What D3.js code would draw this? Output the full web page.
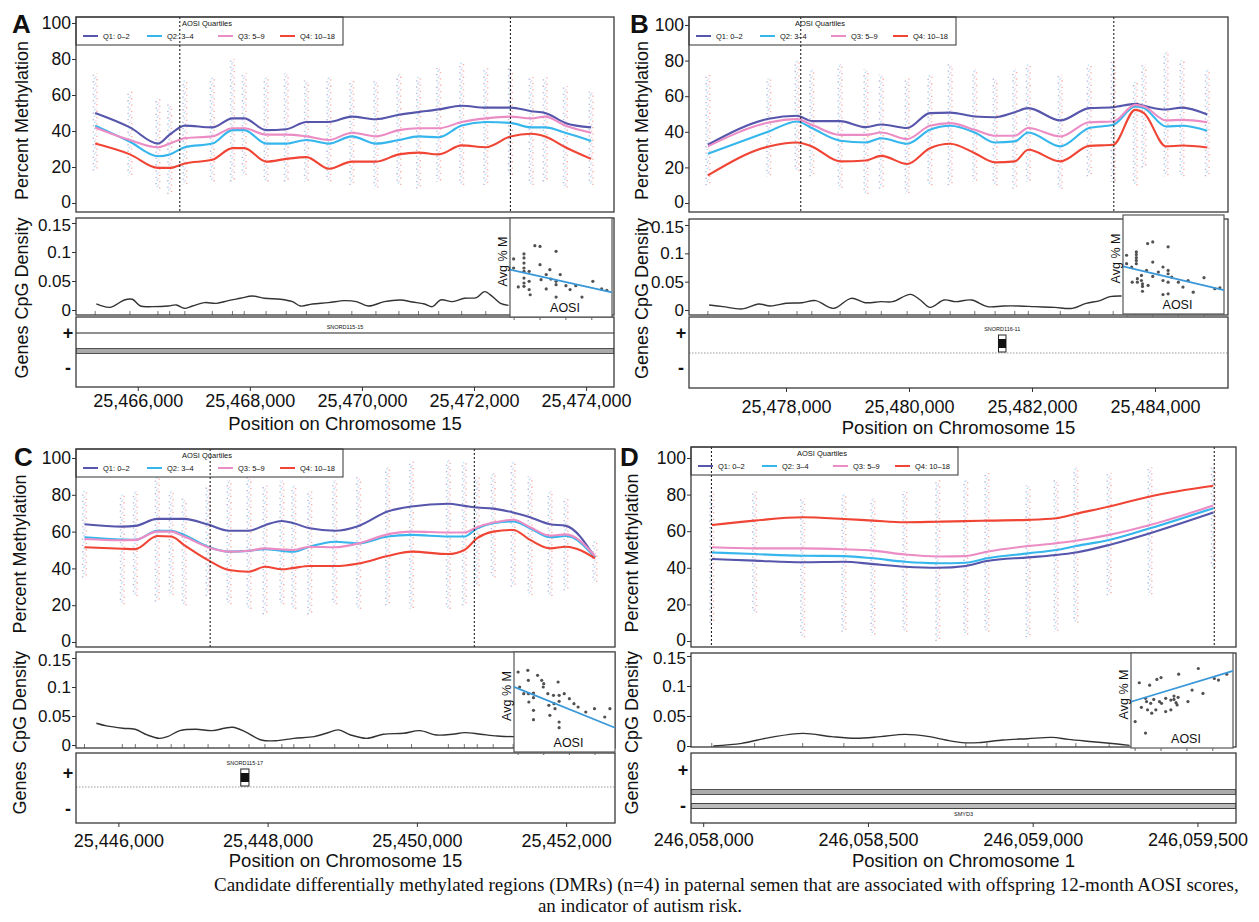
<!DOCTYPE html>
<html>
<head>
<meta charset="utf-8">
<script src="https://cdn.jsdelivr.net/npm/d3@7"></script>
<style>
body { margin: 0; background: #fff; }
text { font-family: "Liberation Sans", Arial, Helvetica, sans-serif; fill: #111; }
</style>
</head>
<body>
<svg id="fig" width="1259" height="922"></svg>
<script>
// ---- shared ----
var quartiles = ["Q1: 0\u20132", "Q2: 3\u20134", "Q3: 5\u20139", "Q4: 10\u201318"];
var qColors = ["#5656ac", "#35b6ec", "#ec8cc4", "#f04434"];

var geneNames = ["SNORD115-15", "SNORD116-11", "SNORD115-17", "SMYD3"];
var geneStart = [25464500, 25481455, 25447640, 246057500];
var geneEnd = [25475000, 25481577, 25447750, 246060000];
var geneStrand = ["+", "+", "+", "-"];
var geneKind = ["line", "box", "box", "line"];

// ---- panel A ----
var xDomA = [25464898, 25474498];
var ticksA = [25466000, 25468000, 25470000, 25472000, 25474000];
var sitesA = [25465240, 25465860, 25466360, 25466570, 25466840, 25467330, 25467690, 25467900, 25468290, 25468650, 25469010, 25469410,
  25469820, 25470250, 25470660, 25471010, 25471370, 25471780, 25472210, 25472650, 25473020, 25473270, 25473630, 25474090];
var q1A = [50, 42, 33, 38, 43, 42, 47, 47, 40.5, 41, 45, 45, 48, 46.5, 49, 50.5, 52, 54, 53, 53, 51, 50, 44.5, 42];
var q2A = [43, 34, 26, 27, 31, 33, 40.5, 40.5, 33, 33, 35, 33, 37, 33, 35, 37, 36.5, 43, 45, 44.5, 42, 42, 39, 34.5];
var q3A = [42, 35, 31, 33, 36, 37, 41.5, 41.5, 38, 38, 37, 35, 39, 37, 40.5, 41.5, 41.5, 45, 47, 48, 47, 48, 43, 39];
var q4A = [33, 27, 19.5, 19.5, 22, 24, 30.5, 30.5, 23, 24.5, 25.5, 19, 23, 23, 27, 28, 27, 32, 31, 37, 38.5, 37, 31, 24.5];
var loA = [18, 15, 8, 5, 10, 12, 12, 15, 12, 12, 12, 12, 10, 8, 10, 8, 12, 10, 10, 15, 10, 12, 8, 10];
var hiA = [72, 62, 58, 55, 68, 70, 80, 72, 70, 72, 68, 70, 68, 68, 72, 70, 75, 78, 75, 75, 70, 70, 65, 62];
var dmrA = [25466750, 25472650];
var cpgPosA = [25465261, 25465510, 25465760, 25465903, 25466047, 25466260, 25466546, 25466688, 25466831, 25466975, 25467188, 25467403,
  25467617, 25467832, 25468045, 25468260, 25468545, 25468760, 25468902, 25469117, 25469402, 25469688, 25469901, 25470116,
  25470401, 25470687, 25470902, 25471116, 25471258, 25471402, 25471615, 25471830, 25472044, 25472188, 25472330, 25472472, 25472615];
var cpgA = [0.0104, 0.0046, 0.0173, 0.0185, 0.0069, 0.0058, 0.0069, 0.0087, 0.0029, 0.0069, 0.0127, 0.0115,
  0.0162, 0.0202, 0.0242, 0.0202, 0.0185, 0.0144, 0.0069, 0.0104, 0.0127, 0.0162, 0.0144, 0.0069,
  0.0144, 0.0173, 0.0138, 0.0104, 0.0058, 0.0173, 0.0144, 0.0202, 0.0214, 0.0317, 0.0231, 0.0115, 0.008];
var aosiA = [0, 0, 0.9, 2, 2, 2, 2, 2, 2, 2, 2, 3, 3, 3, 3.2, 4.1, 5.1, 5.1, 5.3, 6.3, 6.3, 7, 7.2, 8.2, 8.2, 8.2, 8.2, 9, 10.1, 10.9, 12, 13.2, 15.3, 17, 18];
var avgA = [55.2, 49.7, 38.2, 58.2, 55.8, 52.7, 49.7, 47.7, 43.6, 40.6, 38.6, 47.7, 41.6, 36.6, 33.5, 63.2, 62.8, 51.7, 42.6, 45.7, 37, 48.7, 43, 59.8, 41.6, 39.6, 32.1, 45.7, 39, 36.6, 39, 32.1, 41.6, 37, 36.2];
var fitA = [48.2, -0.70];

// ---- panel B ----
var xDomB = [25476423, 25485187];
var ticksB = [25478000, 25480000, 25482000, 25484000];
var sitesB = [25476730, 25477720, 25478180, 25478420, 25478880, 25479300, 25479550, 25479970, 25480340, 25480670, 25481070,
  25481400, 25481720, 25481940, 25482460, 25482930, 25483320, 25483680, 25483820, 25484180, 25484440, 25484850];
var q1B = [32.7, 47.3, 49, 46, 46, 42.6, 44.1, 42.1, 50.5, 50.8, 48.6, 48.2, 51, 53.3, 46.4, 53.3, 53.8, 55.7, 54.6, 52.5, 53.6, 49.7];
var q2B = [27.7, 40.2, 45.8, 42.1, 35, 34, 36.4, 33.3, 41.1, 43.4, 39.6, 34, 34.6, 39.6, 31.8, 42.1, 43.9, 54.2, 53.3, 43, 43.4, 40.6];
var q3B = [31.8, 45.2, 47.1, 43.9, 38.3, 38.3, 39.6, 35.9, 43.4, 44.9, 41.1, 37.8, 37.8, 42.1, 37.4, 45.4, 45.8, 55.1, 54.2, 46.4, 46.7, 45.4];
var q4B = [15.5, 31.8, 34, 31.8, 23.4, 23.9, 26.5, 21.9, 30.8, 33.3, 28, 22.8, 23.4, 29.9, 23.4, 32.1, 32.7, 52.3, 50.5, 31.8, 32.3, 31.2];
var loB = [10, 15, 18, 15, 8, 5, 8, 5, 10, 10, 12, 10, 8, 12, 8, 15, 12, 10, 20, 15, 15, 15];
var hiB = [72, 70, 80, 75, 78, 75, 72, 70, 72, 78, 75, 70, 75, 78, 72, 78, 80, 68, 78, 85, 80, 75];
var dmrB = [25478240, 25483330];
var cpgPosB = [25476750, 25476974, 25477295, 25477551, 25477745, 25478002, 25478259, 25478483, 25478771, 25479060, 25479285,
  25479542, 25479735, 25480023, 25480184, 25480345, 25480569, 25480761, 25481018, 25481275, 25481532, 25481789, 25482046,
  25482366, 25482655, 25482880, 25483104, 25483265, 25483457];
var cpgB = [0.0088, 0.0059, 0.002, 0.0106, 0.0071, 0.0118, 0.0129, 0.0165, 0.0029, 0.0206, 0.0129, 0.0147, 0.0147, 0.0276, 0.0176,
  0.0047, 0.0176, 0.0147, 0.0176, 0.0059, 0.0071, 0.0071, 0.0059, 0.0047, 0.0029, 0.0118, 0.0165, 0.0235, 0.0247];
var aosiB = [0, 0, 1, 1.1, 1.9, 1.9, 1.9, 1.9, 1.9, 2.1, 2.1, 2.9, 2.9, 3.1, 3.1, 3.1, 3.9, 4.2, 4.1, 5.1, 5.1, 5.1, 6.2, 7.1, 7.1, 7.1, 8.1, 8.1, 8.1, 8.1, 8.1, 8.8, 10.1, 11, 12, 13, 15.1, 17.2, 18.2];
var avgB = [55.6, 50.5, 48.5, 39.3, 57.6, 56, 54.2, 52.5, 50.5, 41.4, 39.3, 43.4, 40.3, 38.3, 36.7, 33.8, 46.4, 37.3, 62.7, 63.7, 51.5, 42.8, 45.4, 48.5, 40.3, 31.8, 60.7, 46.4, 44.4, 39.3, 32.2, 42.4, 39.3, 36.3, 40.3, 33.2, 42, 35.3, 35.9];
var fitB = [48.4, -0.73];

// ---- panel C ----
var xDomC = [25445432, 25452655];
var ticksC = [25446000, 25448000, 25450000, 25452000];
var sitesC = [25445546, 25446053, 25446227, 25446521, 25446708, 25446882, 25447202, 25447483, 25447750, 25447964, 25448191, 25448351, 25448565,
  25448899, 25449220, 25449607, 25449928, 25450422, 25450636, 25450809, 25451023, 25451290, 25451517, 25451785, 25451998, 25452386];
var q1C = [64, 62.7, 63.1, 66.9, 66.9, 66.9, 63.8, 60.5, 60.5, 63.5, 65.8, 64.5, 61.8, 60.5, 63.1, 70.9, 73.6, 75.1, 74, 73.1, 72.5, 70.4, 67.8, 64, 63.1, 46];
var q2C = [56.9, 55.7, 55.5, 60.5, 60.5, 58.2, 51.8, 49.1, 49.5, 50.5, 49.5, 49.1, 51.8, 54.5, 53.6, 57.3, 58.2, 57.3, 57.3, 61.8, 64.5, 65.5, 61.8, 56.9, 57.6, 46];
var q3C = [56, 55.3, 55.5, 60, 60, 57.3, 51.5, 49.1, 49.6, 50.9, 50.3, 50, 51.8, 51.5, 53.6, 58.5, 60, 59.5, 59.5, 62.4, 64.9, 66.4, 62.4, 57.8, 58.5, 46.7];
var q4C = [51.5, 50.7, 50.5, 57.6, 57.3, 52.7, 44.5, 39.1, 38.2, 40.9, 39.5, 40.3, 41.3, 41.3, 42.7, 46.7, 49.1, 47.8, 50, 56.4, 60, 60.9, 55.5, 50.9, 51.8, 45.5];
var loC = [35, 20, 25, 22, 25, 20, 25, 20, 18, 15, 20, 18, 15, 20, 18, 20, 18, 18, 20, 30, 35, 30, 25, 25, 28, 32];
var hiC = [82, 80, 82, 90, 82, 78, 85, 88, 90, 85, 88, 85, 82, 88, 90, 95, 98, 99, 98, 90, 92, 98, 90, 82, 78, 55];
var dmrC = [25447230, 25450770];
var cpgPosC = [25445705, 25445841, 25446059, 25446223, 25446386, 25446550, 25446658, 25446823, 25447041, 25447258, 25447423, 25447532,
  25447695, 25447913, 25448132, 25448350, 25448622, 25448785, 25448950, 25449113, 25449330, 25449550, 25449822, 25450040,
  25450258, 25450477, 25450640, 25450857, 25451077, 25451294, 25451512, 25451730];
var cpgC = [0.0375, 0.0329, 0.0289, 0.0271, 0.0173, 0.0115, 0.0144, 0.0248, 0.0271, 0.0248, 0.0289, 0.0306, 0.0231, 0.0087, 0.0075, 0.0115,
  0.0144, 0.0202, 0.026, 0.0173, 0.0115, 0.0185, 0.0202, 0.0248, 0.0173, 0.0185, 0.0214, 0.0185, 0.0156, 0.0144, 0.0156, 0.0133];
var aosiC = [0.1, 0.4, 1.2, 2, 2.1, 2.1, 2.2, 3.1, 3.1, 3.1, 3.1, 3.9, 4.7, 5, 5.1, 5.9, 6.1, 6.3, 7, 7.1, 7.3, 7.9, 8.1, 8.1, 8.1, 8.1, 9.1, 10.1, 11, 11.8, 13.3, 15, 17, 18];
var avgC = [68, 59, 55, 69, 63, 55, 50, 55.4, 52.6, 45, 39.4, 66, 63, 59, 61, 55, 48, 42, 54, 49, 46, 62, 54, 50.4, 38, 34.6, 55, 52, 49, 47, 44, 46, 41, 46];
var fitC = [58.2, -1.245];

// ---- panel D ----
var xDomD = [246057963, 246059617];
var ticksD = [246058000, 246058500, 246059000, 246059500];
var sitesD = [246058026, 246058156, 246058302, 246058427, 246058515, 246058612, 246058712, 246058797, 246058861, 246058986,
  246059071, 246059131, 246059232, 246059356, 246059548];
var q1D = [44.8, 43.9, 43, 43.3, 42, 40.6, 40, 41, 43.7, 45.7, 47, 48.4, 52.5, 58.9, 70.2];
var q2D = [48.4, 47.5, 46.6, 46.4, 45.2, 43.3, 42.5, 42.8, 45.2, 47.9, 49.7, 51.9, 55.2, 61.6, 72.6];
var q3D = [51.2, 50.6, 50.6, 50.1, 49.4, 47.3, 46.2, 46.4, 48.8, 51.9, 53.4, 54.8, 58, 63.4, 74];
var q4D = [63.4, 65.8, 67.6, 66.7, 65.8, 64.9, 65.2, 65.5, 65.8, 66.2, 67.1, 69.5, 73.5, 79, 84.8];
var loD = [10, 15, 2, 5, 3, 5, 0, 3, 5, 2, 5, 10, 25, 25, 40];
var hiD = [82, 82, 78, 80, 78, 82, 88, 88, 92, 85, 88, 95, 92, 95, 95];
var dmrD = [246058025, 246059551];
var cpgPosD = [246058031, 246058117, 246058204, 246058303, 246058390, 246058464, 246058538, 246058613, 246058687, 246058736,
  246058786, 246058836, 246058910, 246058984, 246059059, 246059108, 246059182, 246059257, 246059294];
var cpgD = [0, 0.0044, 0.0144, 0.0211, 0.0156, 0.0128, 0.0156, 0.0194, 0.0156, 0.01, 0.0056, 0.0056, 0.01, 0.0122, 0.0144, 0.0111, 0.0072, 0.0033, 0.0011];
var aosiD = [0.1, 0.9, 1.3, 2.1, 2.1, 2.3, 2.5, 2.9, 3.1, 3.3, 3.7, 4.1, 4.3, 4.8, 5.1, 5.2, 6, 6, 7, 7, 7.6, 7.6, 8, 8.2, 8.4, 8.5, 10.3, 11.1, 12.3, 13.2, 15.4, 16.2, 17.8];
var avgD = [36.7, 61.2, 45.7, 29.4, 51.4, 49.3, 44.1, 59.7, 48.2, 42, 50.7, 44.1, 63.3, 49.3, 64.5, 48.2, 51.4, 43, 50.3, 44.1, 52.8, 50.7, 48.6, 47.2, 52, 66.6, 49.3, 56.6, 70.2, 54.5, 63.9, 62.9, 66.6];
var fitD = [49.9, 0.99];

var caption = ["Candidate differentially methylated regions (DMRs) (n=4) in paternal semen that are associated with offspring 12-month AOSI scores,",
  "an indicator of autism risk."];

// layout of the four panels (pixels)
var panels = [
  {key: "A", chrom: "15", dom: xDomA, ticks: ticksA, sites: sitesA, q: [q1A, q2A, q3A, q4A], lo: loA, hi: hiA, dmr: dmrA,
   cpgPos: cpgPosA, cpg: cpgA, gene: 0, aosi: aosiA, avg: avgA, fit: fitA,
   x0: 76, x1: 614, mTop: 17, mBot: 212, m0: 203, m100: 23, cTop: 218, cBot: 315, c0: 310, c15: 223,
   gTop: 317, gBot: 387, gPlus: 333, gMinus: 368, gMid: 351, mid: "band", tickC: 401, titleC: 423, yTitleX: 22,
   letterX: 12, letterY: 33, inset: [510, 218, 612, 317]},
  {key: "B", chrom: "15", dom: xDomB, ticks: ticksB, sites: sitesB, q: [q1B, q2B, q3B, q4B], lo: loB, hi: hiB, dmr: dmrB,
   cpgPos: cpgPosB, cpg: cpgB, gene: 1, aosi: aosiB, avg: avgB, fit: fitB,
   x0: 689, x1: 1228, mTop: 17, mBot: 212, m0: 203, m100: 25, cTop: 219, cBot: 315, c0: 310, c15: 225,
   gTop: 317, gBot: 388, gPlus: 333, gMinus: 368, gMid: 353, mid: "dot", tickC: 407, titleC: 427, yTitleX: 642,
   letterX: 630, letterY: 33, inset: [1123, 215, 1224, 314]},
  {key: "C", chrom: "15", dom: xDomC, ticks: ticksC, sites: sitesC, q: [q1C, q2C, q3C, q4C], lo: loC, hi: hiC, dmr: dmrC,
   cpgPos: cpgPosC, cpg: cpgC, gene: 2, aosi: aosiC, avg: avgC, fit: fitC,
   x0: 76, x1: 615, mTop: 449, mBot: 647, m0: 642, m100: 458, cTop: 652, cBot: 748, c0: 745, c15: 658,
   gTop: 753, gBot: 823, gPlus: 773, gMinus: 809, gMid: 787, mid: "dot", tickC: 841, titleC: 860, yTitleX: 20,
   letterX: 14, letterY: 466, inset: [514, 652, 615, 752]},
  {key: "D", chrom: "1", dom: xDomD, ticks: ticksD, sites: sitesD, q: [q1D, q2D, q3D, q4D], lo: loD, hi: hiD, dmr: dmrD,
   cpgPos: cpgPosD, cpg: cpgD, gene: 3, aosi: aosiD, avg: avgD, fit: fitD,
   x0: 691, x1: 1236, mTop: 447, mBot: 647, m0: 641, m100: 458, cTop: 653, cBot: 747, c0: 746, c15: 656,
   gTop: 753, gBot: 823, gPlus: 770, gMinus: 806, gMid: 792, mid: "band", tickC: 840, titleC: 860, yTitleX: 632,
   letterX: 620, letterY: 466, inset: [1131, 653, 1233, 748]}
];

var svg = d3.select("#fig");
var fmt = d3.format(",");
var defs = svg.append("defs");
var dashOff = [0, 2.9, 1.4, 4.3];

function clipRect(id, x, y, w, h) {
  defs.append("clipPath").attr("id", id).append("rect")
    .attr("x", x).attr("y", y).attr("width", w).attr("height", h);
  return "url(#" + id + ")";
}

function styleAxis(sel, size) {
  sel.select(".domain").remove();
  sel.selectAll(".tick line").attr("stroke", "#333");
  sel.selectAll(".tick text").attr("font-size", size).attr("fill", "#111")
    .style("font-family", "'Liberation Sans', Arial, sans-serif");
}

function vTitle(g, x, y, txt, size) {
  g.append("text").attr("transform", "translate(" + x + "," + y + ") rotate(-90)")
    .attr("text-anchor", "middle").attr("dy", "0.36em").attr("font-size", size).text(txt);
}

function drawPanel(p) {
  var g = svg.append("g").attr("class", "panel " + p.key);
  var w = p.x1 - p.x0;
  var x = d3.scaleLinear().domain(p.dom).range([p.x0, p.x1]);
  var ym = d3.scaleLinear().domain([0, 100]).range([p.m0, p.m100]);
  var yc = d3.scaleLinear().domain([0, 0.15]).range([p.c0, p.c15]);

  var clipM = clipRect("cm" + p.key, p.x0, p.mTop, w, p.mBot - p.mTop);
  var clipC = clipRect("cc" + p.key, p.x0, p.cTop, w, p.cBot - p.cTop);
  var clipG = clipRect("cg" + p.key, p.x0, p.gTop, w, p.gBot - p.gTop);

  // ---- methylation panel ----
  var cols = g.append("g").attr("clip-path", clipM);
  p.sites.forEach(function(s, i) {
    cols.selectAll(null)
      .data(qColors)
      .enter().append("line")
      .attr("x1", function(c, k) { return x(s) + (k - 1.5) * 1.2; })
      .attr("x2", function(c, k) { return x(s) + (k - 1.5) * 1.2; })
      .attr("y1", ym(p.lo[i]))
      .attr("y2", ym(p.hi[i]))
      .attr("stroke", function(c) { return c; })
      .attr("stroke-width", 1.5)
      .attr("stroke-dasharray", "1.3,5")
      .attr("stroke-dashoffset", function(c, k) { return dashOff[k] + (i % 3); })
      .attr("opacity", 0.4);
  });

  var line = d3.line()
    .x(function(d) { return x(d[0]); })
    .y(function(d) { return ym(d[1]); })
    .curve(d3.curveMonotoneX);

  cols.selectAll(".qline")
    .data(p.q)
    .enter().append("path")
    .attr("class", "qline")
    .attr("d", function(vals) { return line(d3.zip(p.sites, vals)); })
    .attr("fill", "none")
    .attr("stroke", function(d, k) { return qColors[k]; })
    .attr("stroke-width", 2.1);

  // legend
  var lg = g.append("g").attr("transform", "translate(" + p.x0 + "," + p.mTop + ")");
  lg.append("rect").attr("width", 267).attr("height", 28).attr("fill", "#fff").attr("stroke", "#333").attr("stroke-width", 1);
  lg.append("text").attr("x", 131).attr("y", 9).attr("text-anchor", "middle").attr("font-size", 7.5).text("AOSI Quartiles");
  var itemX = [7, 71, 142, 204];
  var item = lg.selectAll(".item").data(quartiles).enter().append("g")
    .attr("transform", function(d, k) { return "translate(" + itemX[k] + ",19)"; });
  item.append("line").attr("x1", 0).attr("x2", 15).attr("stroke", function(d, k) { return qColors[k]; }).attr("stroke-width", 2);
  item.append("text").attr("x", 20).attr("dy", "0.35em").attr("font-size", 7.5).text(function(d) { return d; });

  // DMR boundaries
  g.selectAll(".dmr").data(p.dmr).enter().append("line")
    .attr("x1", function(d) { return x(d); }).attr("x2", function(d) { return x(d); })
    .attr("y1", p.mTop).attr("y2", p.mBot)
    .attr("stroke", "#222").attr("stroke-width", 1.1).attr("stroke-dasharray", "2,2");

  g.append("rect").attr("x", p.x0).attr("y", p.mTop).attr("width", w).attr("height", p.mBot - p.mTop)
    .attr("fill", "none").attr("stroke", "#3a3a3a").attr("stroke-width", 1.3);

  var ay = g.append("g").attr("transform", "translate(" + p.x0 + ",0)")
    .call(d3.axisLeft(ym).tickValues([0, 20, 40, 60, 80, 100]).tickSize(4).tickPadding(1));
  styleAxis(ay, 17.5);
  vTitle(g, p.yTitleX, (p.mTop + p.mBot) / 2 + 6, "Percent Methylation", 18);

  g.append("text").attr("x", p.letterX).attr("y", p.letterY).attr("font-size", 26).attr("font-weight", "bold").text(p.key);

  // ---- CpG density panel ----
  var cg = g.append("g").attr("clip-path", clipC);
  cg.selectAll(".rug").data(p.sites).enter().append("line")
    .attr("x1", function(d) { return x(d); }).attr("x2", function(d) { return x(d); })
    .attr("y1", p.cBot - 4).attr("y2", p.cBot)
    .attr("stroke", "#555").attr("stroke-width", 0.8);
  var dens = d3.line()
    .x(function(d) { return x(d[0]); })
    .y(function(d) { return yc(d[1]); })
    .curve(d3.curveCatmullRom.alpha(0.5));
  cg.append("path").datum(d3.zip(p.cpgPos, p.cpg)).attr("d", dens)
    .attr("fill", "none").attr("stroke", "#333").attr("stroke-width", 1.4);
  g.append("rect").attr("x", p.x0).attr("y", p.cTop).attr("width", w).attr("height", p.cBot - p.cTop)
    .attr("fill", "none").attr("stroke", "#3a3a3a").attr("stroke-width", 1.3);
  var ac = g.append("g").attr("transform", "translate(" + p.x0 + ",0)")
    .call(d3.axisLeft(yc).tickValues([0, 0.05, 0.1, 0.15]).tickFormat(d3.format("~g")).tickSize(4).tickPadding(1));
  styleAxis(ac, 17);
  ac.selectAll(".tick text").filter(function(d) { return d === 0.15; }).attr("dy", "0.45em");
  ay.selectAll(".tick text").filter(function(d) { return d === 0; }).attr("dy", "0.25em");
  vTitle(g, p.yTitleX, (p.cTop + p.cBot) / 2 + 2, "CpG Density", 18);

  // ---- genes panel ----
  var gg = g.append("g").attr("clip-path", clipG);
  if (p.mid === "band") {
    gg.append("rect").attr("x", p.x0).attr("y", p.gMid - 2.5).attr("width", w).attr("height", 5)
      .attr("fill", "#aaa").attr("stroke", "#444").attr("stroke-width", 0.9);
  } else {
    gg.append("line").attr("x1", p.x0).attr("x2", p.x1).attr("y1", p.gMid).attr("y2", p.gMid)
      .attr("stroke", "#999").attr("stroke-width", 1).attr("stroke-dasharray", "1.5,1.5");
  }
  var gi = p.gene;
  var gx0 = Math.max(p.x0, x(geneStart[gi])), gx1 = Math.min(p.x1, x(geneEnd[gi]));
  var gy = geneStrand[gi] === "+" ? p.gPlus : p.gMinus;
  if (geneKind[gi] === "box") {
    var bTop = p.gMid - 18, bBot = p.gMid - 1;
    gg.append("rect").attr("x", gx0).attr("y", bTop).attr("width", gx1 - gx0).attr("height", bBot - bTop)
      .attr("fill", "#fff").attr("stroke", "#222").attr("stroke-width", 1);
    gg.append("rect").attr("x", gx0).attr("y", bTop + 4).attr("width", gx1 - gx0).attr("height", bBot - bTop - 8)
      .attr("fill", "#111");
    gg.append("text").attr("x", (gx0 + gx1) / 2).attr("y", bTop - 4).attr("text-anchor", "middle")
      .attr("font-size", 5.5).text(geneNames[gi]);
  } else if (geneStrand[gi] === "+") {
    gg.append("line").attr("x1", gx0).attr("x2", gx1).attr("y1", gy).attr("y2", gy)
      .attr("stroke", "#222").attr("stroke-width", 1.2);
    gg.append("text").attr("x", (gx0 + gx1) / 2).attr("y", gy - 4).attr("text-anchor", "middle")
      .attr("font-size", 5.5).text(geneNames[gi]);
  } else {
    gg.append("rect").attr("x", gx0).attr("y", gy - 2.5).attr("width", gx1 - gx0).attr("height", 5)
      .attr("fill", "#bbb").attr("stroke", "#333").attr("stroke-width", 0.9);
    gg.append("text").attr("x", (gx0 + gx1) / 2).attr("y", gy + 10).attr("text-anchor", "middle")
      .attr("font-size", 5.5).text(geneNames[gi]);
  }
  g.append("rect").attr("x", p.x0).attr("y", p.gTop).attr("width", w).attr("height", p.gBot - p.gTop)
    .attr("fill", "none").attr("stroke", "#3a3a3a").attr("stroke-width", 1.3);
  g.append("text").attr("x", p.x0 - 8).attr("y", p.gPlus).attr("dy", "0.35em").attr("text-anchor", "middle")
    .attr("font-size", 18).attr("font-weight", "bold").text("+");
  g.append("text").attr("x", p.x0 - 8).attr("y", p.gMinus).attr("dy", "0.35em").attr("text-anchor", "middle")
    .attr("font-size", 18).attr("font-weight", "bold").text("-");
  vTitle(g, p.yTitleX, (p.gTop + p.gBot) / 2, "Genes", 18);

  var ax = g.append("g").attr("transform", "translate(0," + p.gBot + ")")
    .call(d3.axisBottom(x).tickValues(p.ticks).tickFormat(fmt).tickSize(4)
      .tickPadding(p.tickC + 6.5 - 12.8 - p.gBot - 4));
  styleAxis(ax, 18);
  g.append("text").attr("x", (p.x0 + p.x1) / 2).attr("y", p.titleC + 6.5).attr("text-anchor", "middle")
    .attr("font-size", 18.5).text("Position on Chromosome " + p.chrom);

  // ---- inset: AOSI vs average % methylation ----
  var b = p.inset;
  var ix = d3.scaleLinear().domain([-0.7, 19]).range([b[0], b[2]]);
  var iy = d3.scaleLinear().domain([20, 80]).range([b[3], b[1]]);
  var ins = g.append("g");
  ins.append("rect").attr("x", b[0]).attr("y", b[1]).attr("width", b[2] - b[0]).attr("height", b[3] - b[1])
    .attr("fill", "#fff").attr("stroke", "#555").attr("stroke-width", 1.2);
  ins.selectAll(".pt").data(d3.zip(p.aosi, p.avg)).enter().append("circle")
    .attr("cx", function(d) { return ix(d[0]); })
    .attr("cy", function(d) { return iy(d[1]); })
    .attr("r", 1.6).attr("fill", "#333").attr("opacity", 0.85);
  var fitDom = ix.domain();
  ins.append("line")
    .attr("x1", ix(fitDom[0])).attr("y1", iy(p.fit[0] + p.fit[1] * fitDom[0]))
    .attr("x2", ix(fitDom[1])).attr("y2", iy(p.fit[0] + p.fit[1] * fitDom[1]))
    .attr("stroke", "#3a98d8").attr("stroke-width", 1.8);
  var ia = ins.append("g").attr("transform", "translate(0," + b[3] + ")")
    .call(d3.axisBottom(ix).tickValues([0, 5, 10, 15]).tickSize(3).tickFormat(""));
  ia.select(".domain").remove();
  ia.selectAll("line").attr("stroke", "#666");
  ins.append("text").attr("x", (b[0] + b[2]) / 2 + 4).attr("y", b[3] - 5).attr("text-anchor", "middle")
    .attr("font-size", 12.5).text("AOSI");
  vTitle(ins, b[0] - 8, (b[1] + b[3]) / 2 - 6, "Avg % M", 12.5);
}

panels.forEach(drawPanel);

svg.selectAll(".caption").data(caption).enter().append("text")
  .attr("class", "caption")
  .attr("x", function(d, i) { return i === 0 ? 214 : 640; })
  .attr("y", function(d, i) { return 891 + i * 21; })
  .attr("text-anchor", function(d, i) { return i === 0 ? "start" : "middle"; })
  .attr("font-size", 19)
  .style("font-family", "'Liberation Serif', 'Times New Roman', serif")
  .text(function(d) { return d; });
</script>
</body>
</html>
